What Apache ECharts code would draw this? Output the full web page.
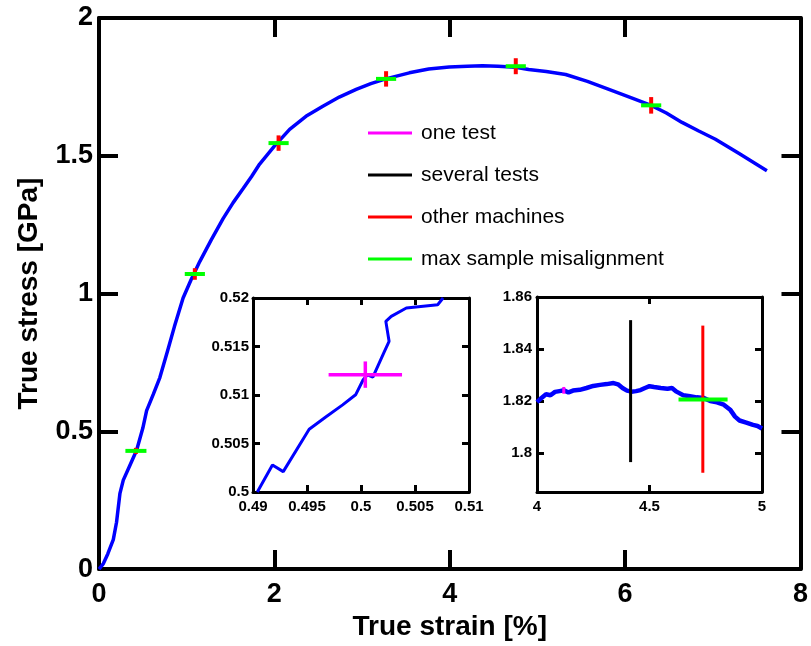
<!DOCTYPE html>
<html>
<head>
<meta charset="utf-8">
<script src="https://cdn.jsdelivr.net/npm/echarts@6/dist/echarts.min.js"></script>
<style>html,body{margin:0;padding:0;background:#fff;}#c{width:811px;height:646px;}</style>
</head>
<body>
<div id="c"></div>
<script>
// ---- Main curve (true strain %, true stress GPa)
var mainStrain = [0,0.05,0.1,0.163,0.2,0.239,0.277,0.353,0.429,0.5,0.543,0.62,0.694,0.78,0.86,0.959,1.05,1.149,1.28,1.415,1.53,1.642,1.74,1.832,2.0,2.174,2.36,2.553,2.74,2.933,3.1,3.27,3.539,3.76,3.994,4.2,4.373,4.55,4.75,4.9,5.1,5.322,5.57,5.815,6.05,6.297,6.47,6.649,6.84,7.03,7.3,7.617];
var mainStress = [0,0.02,0.055,0.107,0.17,0.275,0.323,0.377,0.431,0.512,0.575,0.635,0.695,0.79,0.88,0.984,1.05,1.116,1.195,1.272,1.33,1.38,1.425,1.47,1.535,1.596,1.643,1.68,1.713,1.741,1.762,1.779,1.801,1.815,1.822,1.825,1.827,1.825,1.821,1.813,1.806,1.795,1.77,1.741,1.713,1.683,1.655,1.621,1.59,1.56,1.508,1.446];
// markers on main curve
var markStrain = [0.421,1.093,2.048,3.274,4.753,6.297];
var markStress = [0.429,1.071,1.546,1.779,1.825,1.683];
var misalignErr = [0.12,0.115,0.115,0.115,0.115,0.115];
var machineErr = [0.011,0.021,0.028,0.028,0.029,0.030];

// ---- Inset 1 (zoom near 0.5 %)
var in1Strain = [0.4904,0.4918,0.4928,0.4952,0.4968,0.4983,0.4995,0.5002,0.5006,0.5011,0.5021,0.5026,0.5023,0.5028,0.5042,0.5071,0.5076];
var in1Stress = [0.5,0.50279,0.5021,0.50647,0.50778,0.50898,0.51002,0.51157,0.51208,0.51184,0.51432,0.51553,0.51759,0.51811,0.51897,0.51931,0.52];
var in1OneTest = [0.5004,0.5121,0.0034,0.00136];

// ---- Inset 2 (zoom near maximum)
var in2Strain = [4.0,4.02,4.04,4.06,4.08,4.10,4.12,4.14,4.16,4.19,4.22,4.25,4.28,4.31,4.34,4.36,4.38,4.40,4.42,4.44,4.46,4.48,4.50,4.52,4.55,4.58,4.60,4.62,4.65,4.68,4.71,4.74,4.77,4.80,4.83,4.86,4.88,4.90,4.93,4.96,4.98,5.0];
var in2Stress = [1.8196,1.8212,1.8226,1.8222,1.8235,1.8238,1.8241,1.8233,1.824,1.8243,1.825,1.8258,1.8262,1.8265,1.8269,1.8264,1.825,1.824,1.8236,1.8238,1.8242,1.825,1.8257,1.8254,1.825,1.8247,1.825,1.8236,1.8222,1.8218,1.8214,1.8212,1.82,1.8195,1.8186,1.8165,1.814,1.8125,1.8117,1.8108,1.8104,1.8094];
var in2OneTest = [4.119,1.8241,0,0.0013];
var in2Several = [4.416,1.8238,0,0.0273];
var in2Machines = [4.737,1.8207,0,0.0283];
var in2Misalign = [4.738,1.8206,0.109,0];

var in2YTicks = [1.8,1.82,1.84,1.86];

var FONT = "'Liberation Sans', Arial, sans-serif";
function pairs(a,b){return a.map(function(v,i){return [v,b[i]];});}

function errRender(lw){
  return function(params, api){
    var x = api.value(0), y = api.value(1), ex = api.value(2), ey = api.value(3);
    var color = api.visual('color');
    var ch = [];
    if (ex > 0) {
      var p1 = api.coord([x-ex,y]), p2 = api.coord([x+ex,y]);
      ch.push({type:'line', shape:{x1:p1[0],y1:p1[1],x2:p2[0],y2:p2[1]}, style:{stroke:color,lineWidth:lw}});
    }
    if (ey > 0) {
      var q1 = api.coord([x,y-ey]), q2 = api.coord([x,y+ey]);
      ch.push({type:'line', shape:{x1:q1[0],y1:q1[1],x2:q2[0],y2:q2[1]}, style:{stroke:color,lineWidth:lw}});
    }
    return {type:'group', children:ch};
  };
}
function errSeries(name, color, data, xi, yi, lw){
  return {type:'custom', name:name, coordinateSystem:'cartesian2d', xAxisIndex:xi, yAxisIndex:yi,
    itemStyle:{color:color}, renderItem:errRender(lw), encode:{x:0,y:1}, data:data, silent:true, z:3};
}

function mkAxis(o){
  var a = {
    type:'value', gridIndex:o.g, min:o.min, max:o.max, position:o.pos,
    splitLine:{show:false},
    axisLine:{show:true, onZero:false, lineStyle:{color:'#000', width:o.lw}},
    axisTick:{show:true, inside:true, length:o.tl, lineStyle:{color:'#000', width:o.lw}},
    axisLabel:{show:!!o.label, color:'#000', fontFamily:FONT, fontWeight:'bold', fontSize:o.fs, margin:o.margin,
      showMinLabel:true, showMaxLabel:true,
      formatter:function(v){return String(+(+v).toFixed(4));}}
  };
  if (o.interval !== undefined) a.interval = o.interval;
  if (o.custom) { a.axisTick.customValues = o.custom; a.axisLabel.customValues = o.custom; }
  if (o.name) {
    a.name = o.name; a.nameLocation = 'middle'; a.nameGap = o.nameGap;
    a.nameTextStyle = {color:'#000', fontFamily:FONT, fontWeight:'bold', fontSize:28};
  }
  return a;
}

var option = {
  animation:false,
  backgroundColor:'#fff',
  grid:[
    {left:99, top:18, width:703, height:555},
    {left:253, top:298, width:216, height:194},
    {left:537, top:297, width:225, height:195}
  ],
  xAxis:[
    mkAxis({g:0,min:0,max:8,interval:2,pos:'bottom',lw:4,tl:19,label:true,fs:27,margin:12,name:'True strain [%]',nameGap:42}),
    mkAxis({g:0,min:0,max:8,interval:2,pos:'top',lw:4,tl:19}),
    mkAxis({g:1,min:0.49,max:0.51,interval:0.005,pos:'bottom',lw:3,tl:7,label:true,fs:15,margin:7}),
    mkAxis({g:1,min:0.49,max:0.51,interval:0.005,pos:'top',lw:3,tl:7}),
    mkAxis({g:2,min:4,max:5,interval:0.5,pos:'bottom',lw:3,tl:7,label:true,fs:15,margin:7}),
    mkAxis({g:2,min:4,max:5,interval:0.5,pos:'top',lw:3,tl:7})
  ],
  yAxis:[
    mkAxis({g:0,min:0,max:2,interval:0.5,pos:'left',lw:4,tl:19,label:true,fs:27,margin:6,name:'True stress [GPa]',nameGap:56}),
    mkAxis({g:0,min:0,max:2,interval:0.5,pos:'right',lw:4,tl:19}),
    mkAxis({g:1,min:0.5,max:0.52,interval:0.005,pos:'left',lw:3,tl:7,label:true,fs:15,margin:4}),
    mkAxis({g:1,min:0.5,max:0.52,interval:0.005,pos:'right',lw:3,tl:7}),
    mkAxis({g:2,min:1.785,max:1.86,pos:'left',lw:3,tl:7,label:true,fs:15,margin:5,custom:in2YTicks}),
    mkAxis({g:2,min:1.785,max:1.86,pos:'right',lw:3,tl:7,custom:in2YTicks})
  ],
  legend:{
    orient:'vertical', left:363, top:117, itemWidth:44, itemHeight:3, itemGap:20, icon:'rect',
    data:['one test','several tests','other machines','max sample misalignment'],
    textStyle:{color:'#000', fontFamily:FONT, fontSize:21, lineHeight:22, padding:[0,0,0,4]},
    selectedMode:false
  },
  series:[
    {type:'line', xAxisIndex:0, yAxisIndex:0, data:pairs(mainStrain,mainStress), showSymbol:false, symbol:'none',
      lineStyle:{color:'#0000ff', width:3.5}, z:2, silent:true},
    errSeries('other machines','#ff0000', markStrain.map(function(v,i){return [v,markStress[i],0,machineErr[i]];}),0,0,4),
    errSeries('max sample misalignment','#00ff00', markStrain.map(function(v,i){return [v,markStress[i],misalignErr[i],0];}),0,0,4),

    {type:'line', xAxisIndex:2, yAxisIndex:2, data:pairs(in1Strain,in1Stress), showSymbol:false, symbol:'none',
      lineStyle:{color:'#0000ff', width:3}, z:2, silent:true},
    errSeries('one test','#ff00ff',[in1OneTest],2,2,3.5),

    {type:'line', xAxisIndex:4, yAxisIndex:4, data:pairs(in2Strain,in2Stress), showSymbol:false, symbol:'none',
      lineStyle:{color:'#0000ff', width:4.5}, z:2, silent:true},
    errSeries('one test','#ff00ff',[in2OneTest],4,4,3),
    errSeries('several tests','#000000',[in2Several],4,4,3),
    errSeries('other machines','#ff0000',[in2Machines],4,4,3),
    errSeries('max sample misalignment','#00ff00',[in2Misalign],4,4,4)
  ]
};
var chart = echarts.init(document.getElementById('c'), null, {renderer:'canvas'});
chart.setOption(option);
</script>
</body>
</html>
